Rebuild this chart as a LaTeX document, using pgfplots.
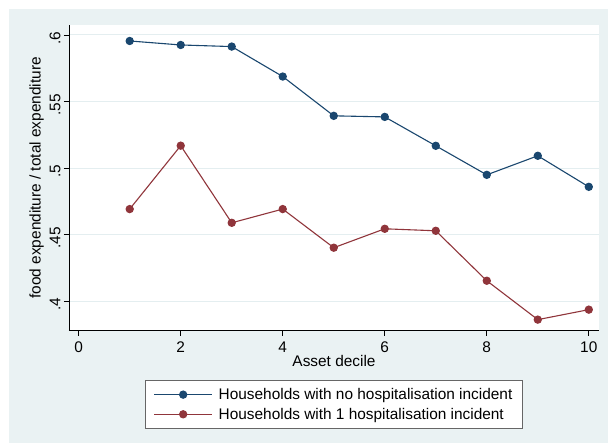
\documentclass[border=0pt]{standalone}
\usepackage{pgfplots}
\pgfplotsset{compat=1.18}
\usepackage{fontspec}
\setmainfont{Liberation Sans}
\definecolor{bgc}{HTML}{EAF2F3}
\definecolor{gridc}{HTML}{E4EEF0}
\definecolor{snavy}{HTML}{1A476F}
\definecolor{smaroon}{HTML}{90353B}
\begin{document}
\begin{tikzpicture}[x=1pt,y=1pt]
\fill[white] (0,0) rectangle (608,443);
\fill[bgc] (9,0) rectangle (608,434);
\begin{axis}[
  at={(69pt,112.3pt)}, anchor=south west,
  scale only axis, width=530pt, height=305.7pt,
  xmin=-0.19, xmax=10.2, ymin=0.378, ymax=0.6075,
  axis background/.style={fill=white},
  axis x line*=bottom, axis y line*=left,
  axis line style={black, line width=0.8pt, -},
  xtick={0,2,4,6,8,10},
  ytick={0.4,0.45,0.5,0.55,0.6},
  yticklabels={.4,.45,.5,.55,.6},
  yticklabel style={rotate=90, anchor=south, xshift=-3pt},
  xticklabel style={yshift=-3pt},
  tick align=outside, major tick length=5pt,
  tick style={black, line width=0.8pt},
  ymajorgrids, grid style={gridc, line width=1pt},
  /pgf/number format/assume math mode=true,
  font=\fontsize{15.4}{18}\selectfont,
  xlabel={Asset decile}, ylabel={food expenditure / total expenditure},
  xlabel style={yshift=5pt},
  ylabel style={yshift=-1pt},
  legend style={at={(0.5,-0.161)}, anchor=north, draw=black!60, line width=0.8pt, fill=white,
    inner xsep=8pt, inner ysep=6pt, row sep=3pt, column sep=4pt,
    font=\fontsize{15.4}{18}\selectfont, legend cell align=left},
  legend image code/.code={\draw[mark repeat=2,mark phase=2] plot coordinates {(0pt,0pt) (29pt,0pt) (58pt,0pt)};},
]
\addplot[snavy, line width=1.1pt, mark=*, mark size=3.6pt, mark options={fill=snavy}] coordinates {
(1,0.5955) (2,0.5925) (3,0.5913) (4,0.5688) (5,0.5393) (6,0.5385) (7,0.5168) (8,0.4950) (9,0.5093) (10,0.4860)};
\addlegendentry{Households with no hospitalisation incident}
\addplot[smaroon, line width=1.1pt, mark=*, mark size=3.6pt, mark options={fill=smaroon}] coordinates {
(1,0.4693) (2,0.5169) (3,0.4590) (4,0.4693) (5,0.4403) (6,0.4545) (7,0.4530) (8,0.4155) (9,0.3863) (10,0.3938)};
\addlegendentry{Households with 1 hospitalisation incident}
\end{axis}
\end{tikzpicture}
\end{document}
